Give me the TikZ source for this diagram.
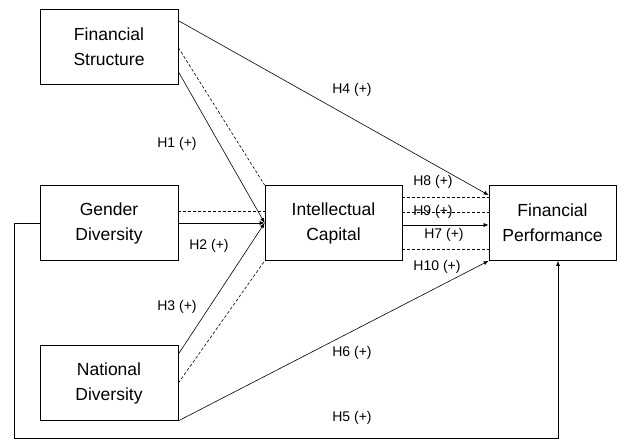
\documentclass[tikz,border=0pt]{standalone}
\usepackage{fontspec}
\setmainfont{Liberation Sans}
\usepackage{tikz}
\usetikzlibrary{arrows.meta}

\tikzset{
	var/.style= {draw, line width=0.7pt, minimum height=75pt, align=center, font=\fontsize{17.5}{25}\selectfont, inner sep=0pt},
	hyp/.style= {font=\fontsize{14}{16}\selectfont, inner sep=0pt},
	flecha/.style= {line width=0.6pt, -{Latex[length=5pt,width=4pt]}},
	punteada/.style= {line width=0.6pt, dashed, dash pattern=on 3pt off 2pt}
}

\begin{document}
\begin{tikzpicture}[x=1pt, y=1pt]
			\useasboundingbox (0,0) rectangle (618,440);
			\node [var, minimum width=138pt] (fs) at (109,393.5) {Financial\\Structure}; % estructura
			\node [var, minimum width=138pt] (gd) at (109,217) {Gender\\Diversity}; % genero
			\node [var, minimum width=138pt] (nd) at (109,57) {National\\Diversity}; % nacionalidad
			\node [var, minimum width=137pt] (ic) at (333.5,217) {Intellectual\\Capital}; % capital intelectual
			\node [var, minimum width=127pt] (fp) at (552.5,217) {Financial\\Performance}; % desempeno
			% hacia capital intelectual
			\draw [flecha] ([yshift=-63pt]fs.north east) -- (ic.west);
			\draw [punteada] ([yshift=-39pt]fs.north east) -- (ic.north west);
			\draw [punteada] ([yshift=12pt]gd.east) -- ([yshift=12pt]ic.west);
			\draw [flecha] (gd.east) -- (ic.west);
			\draw [flecha] ([yshift=-9pt]nd.north east) -- (ic.west);
			\draw [punteada] (nd.east) -- (ic.south west);
			% hacia desempeno
			\draw [flecha] ([yshift=-12pt]fs.north east) -- ([yshift=-10pt]fp.north west);
			\draw [flecha] (nd.south east) -- (fp.south west);
			\draw [punteada] ([yshift=26pt]ic.east) -- ([yshift=26pt]fp.west);
			\draw [punteada] ([yshift=11pt]ic.east) -- ([yshift=11pt]fp.west);
			\draw [flecha] ([yshift=-2pt]ic.east) -- ([yshift=-2pt]fp.west);
			\draw [punteada] ([yshift=-26pt]ic.east) -- ([yshift=-26pt]fp.west);
			% H5 por abajo
			\coordinate (c1) at (14,217);
			\coordinate (c2) at (14,2);
			\coordinate (c3) at (558,2);
			\draw [flecha] (gd.west) -- (c1) -- (c2) -- (c3) -- (c3 |- fp.south);
			% etiquetas
			\node [hyp] (h1) at (177,296) {H1 (+)};
			\node [hyp] (h2) at (209,194) {H2 (+)};
			\node [hyp] (h3) at (177,133) {H3 (+)};
			\node [hyp] (h4) at (352,350) {H4 (+)};
			\node [hyp] (h5) at (352,22) {H5 (+)};
			\node [hyp] (h6) at (352,87) {H6 (+)};
			\node [hyp] (h7) at (444,205) {H7 (+)};
			\node [hyp] (h8) at (433,258) {H8 (+)};
			\node [hyp] (h9) at (433,228) {H9 (+)};
			\node [hyp] (h10) at (437,173) {H10 (+)};
\end{tikzpicture}
\end{document}
